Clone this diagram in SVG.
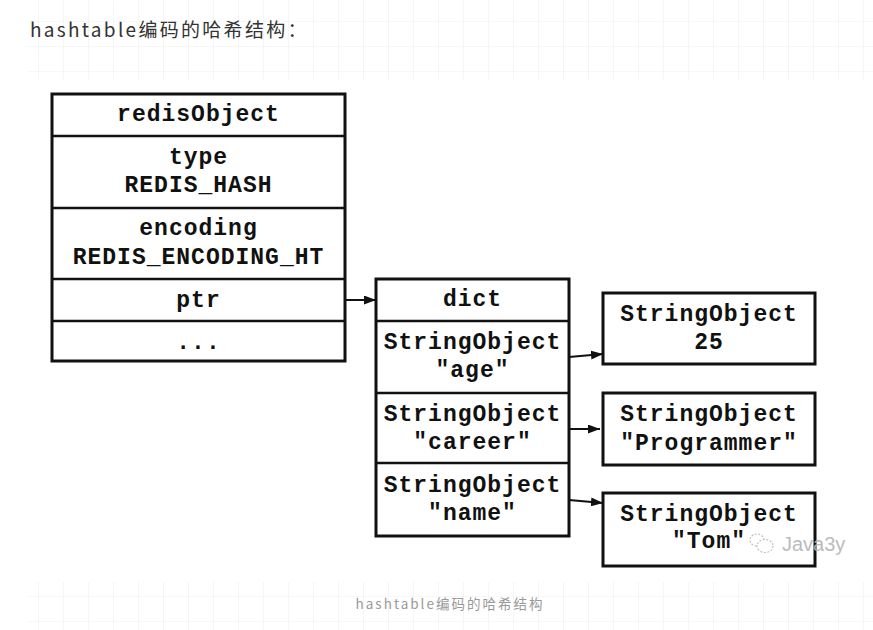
<svg xmlns="http://www.w3.org/2000/svg" width="873" height="630" viewBox="0 0 873 630">
<defs>
<pattern id="grid" x="14" y="22" width="25" height="25" patternUnits="userSpaceOnUse">
<path d="M25 0V25M0 25H25" fill="none" stroke="#efefef" stroke-width="1.2"/>
</pattern>
<marker id="arr" viewBox="0 0 12 9" refX="12" refY="4.5" markerWidth="12" markerHeight="9" markerUnits="userSpaceOnUse" orient="auto">
<path d="M0 0L12 4.5L0 9Z" fill="#111"/>
</marker>
</defs>
<style>
.box{fill:#fff;stroke:#111;stroke-width:3}
.div{stroke:#111;stroke-width:2.5}
.t{font-family:"Liberation Mono","Courier New",monospace;font-weight:bold;font-size:23px;letter-spacing:1px;fill:#111;text-anchor:middle}
.conn{stroke:#111;stroke-width:2;fill:none;marker-end:url(#arr)}
</style>
<rect width="873" height="630" fill="#fff"/>
<rect x="28" y="0" width="845" height="630" fill="url(#grid)"/>
<rect x="28" y="80" width="845" height="502" fill="#fff"/>
<text x="30" y="37" font-family="Noto Sans CJK SC, sans-serif" font-size="19" letter-spacing="2.3" fill="#333">hashtable编码的哈希结构：</text>
<text x="450" y="609" font-family="Noto Sans CJK SC, sans-serif" font-size="13.5" letter-spacing="2" fill="#999" text-anchor="middle">hashtable编码的哈希结构</text>

<g id="redisObject">
<rect class="box" x="52" y="94" width="293" height="267"/>
<line class="div" x1="52" y1="136" x2="345" y2="136"/>
<line class="div" x1="52" y1="208" x2="345" y2="208"/>
<line class="div" x1="52" y1="279" x2="345" y2="279"/>
<line class="div" x1="52" y1="321" x2="345" y2="321"/>
<text class="t" x="198.5" y="121">redisObject</text>
<text class="t" x="198.5" y="164">type</text>
<text class="t" x="198.5" y="192">REDIS_HASH</text>
<text class="t" x="198.5" y="235">encoding</text>
<text class="t" x="198.5" y="264">REDIS_ENCODING_HT</text>
<text class="t" x="198.5" y="307">ptr</text>
<text class="t" x="198.5" y="349">...</text>
</g>

<g id="dict">
<rect class="box" x="376" y="279" width="193" height="257"/>
<line class="div" x1="376" y1="321" x2="569" y2="321"/>
<line class="div" x1="376" y1="393" x2="569" y2="393"/>
<line class="div" x1="376" y1="463" x2="569" y2="463"/>
<text class="t" x="472.5" y="306">dict</text>
<text class="t" x="472.5" y="349">StringObject</text>
<text class="t" x="472.5" y="377">"age"</text>
<text class="t" x="472.5" y="421">StringObject</text>
<text class="t" x="472.5" y="449">"career"</text>
<text class="t" x="472.5" y="492">StringObject</text>
<text class="t" x="472.5" y="520">"name"</text>
</g>

<g id="value25">
<rect class="box" x="603" y="293" width="212" height="71"/>
<text class="t" x="709" y="321">StringObject</text>
<text class="t" x="709" y="349">25</text>
</g>

<g id="valueProgrammer">
<rect class="box" x="603" y="393" width="212" height="72"/>
<text class="t" x="709" y="421">StringObject</text>
<text class="t" x="709" y="450">"Programmer"</text>
</g>

<g id="valueTom">
<rect class="box" x="603" y="493" width="212" height="73"/>
<text class="t" x="709" y="521">StringObject</text>
<text class="t" x="709" y="548">"Tom"</text>
</g>

<g id="connectors">
<line class="conn" x1="345" y1="300" x2="376" y2="300"/>
<line class="conn" x1="569" y1="357" x2="603" y2="354"/>
<line class="conn" x1="569" y1="429" x2="600" y2="429"/>
<line class="conn" x1="569" y1="500" x2="603" y2="503"/>
</g>

<g id="watermark" opacity="0.9">
<ellipse cx="757" cy="540" rx="7" ry="6" fill="#fff" stroke="#bbb" stroke-width="1.2" stroke-dasharray="2 1.5"/>
<ellipse cx="765" cy="546" rx="8" ry="6.5" fill="#fff" stroke="#bbb" stroke-width="1.2" stroke-dasharray="2 1.5"/>
<text x="782" y="551" font-family="Liberation Sans, Arial, sans-serif" font-size="20" fill="#b5b5b5">Java3y</text>
</g>
</svg>
